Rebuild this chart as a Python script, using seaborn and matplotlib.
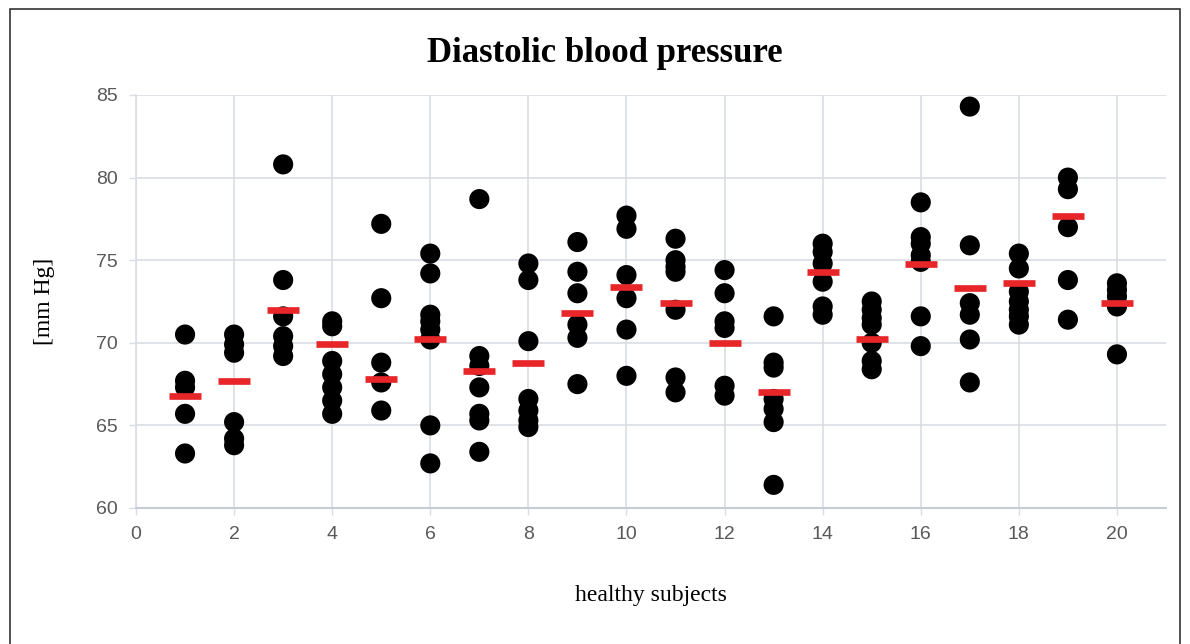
import matplotlib
matplotlib.use("Agg")
import matplotlib.pyplot as plt
import seaborn as sns
import pandas as pd
from matplotlib.patches import Rectangle

# ---- data ----
subjects = list(range(1, 21))
pressure_values = [
    [70.5, 67.7, 67.3, 65.7, 63.3],
    [70.5, 69.9, 69.4, 65.2, 64.2, 63.8],
    [80.8, 73.8, 71.6, 70.4, 69.8, 69.2],
    [71.3, 71.0, 68.9, 68.1, 67.3, 66.5, 65.7],
    [77.2, 72.7, 68.8, 67.6, 65.9],
    [75.4, 74.2, 71.7, 71.3, 70.8, 70.2, 65.0, 62.7],
    [78.7, 69.2, 68.6, 67.3, 65.7, 65.3, 63.4],
    [74.8, 73.8, 70.1, 66.6, 65.9, 65.3, 64.9],
    [76.1, 74.3, 73.0, 71.1, 70.3, 67.5],
    [77.7, 76.9, 74.1, 72.7, 70.8, 68.0],
    [76.3, 75.0, 74.6, 74.3, 72.0, 67.9, 67.0],
    [74.4, 73.0, 71.3, 70.9, 67.4, 66.8],
    [71.6, 68.8, 68.5, 66.6, 66.0, 65.2, 61.4],
    [76.0, 75.5, 74.8, 73.7, 72.2, 71.7],
    [72.5, 72.0, 71.5, 71.1, 70.0, 68.9, 68.4],
    [78.5, 76.4, 76.0, 75.3, 74.9, 71.6, 69.8],
    [84.3, 75.9, 72.4, 71.7, 70.2, 67.6],
    [75.4, 74.5, 73.1, 72.5, 72.0, 71.6, 71.1],
    [80.0, 79.3, 77.0, 73.8, 71.4],
    [73.6, 73.2, 72.8, 72.2, 69.3],
]
mean_values = [66.8, 67.7, 72.0, 69.9, 67.8, 70.2, 68.3, 68.8, 71.8, 73.4,
               72.4, 70.0, 67.0, 74.3, 70.2, 74.8, 73.3, 73.6, 77.7, 72.4]
x_ticks = [0, 2, 4, 6, 8, 10, 12, 14, 16, 18, 20]
y_ticks = [60, 65, 70, 75, 80, 85]

points = pd.DataFrame(
    [(s, v) for s, vals in zip(subjects, pressure_values) for v in vals],
    columns=["subject", "pressure"],
)
means = pd.DataFrame({"subject": subjects, "pressure": mean_values})

# ---- style ----
sns.set_theme(style="white")
grid_c = "#d9dee4"
tick_c = "#595959"

fig = plt.figure(figsize=(11.9, 6.44), dpi=100)
ax = fig.add_axes([136 / 1190, 1 - 508 / 644, (1166 - 136) / 1190, (508 - 95) / 644])

sns.scatterplot(data=points, x="subject", y="pressure", ax=ax, color="black",
                s=210, edgecolor="none", zorder=3, legend=False)
sns.scatterplot(data=means, x="subject", y="pressure", ax=ax, color="#e8262a",
                marker="_", s=530, linewidth=4.8, zorder=4, legend=False)

ax.set_xlim(0, 21)
ax.set_ylim(60, 85)
ax.set_xticks(x_ticks)
ax.set_yticks(y_ticks)
ax.grid(True, color=grid_c, linewidth=1.2, zorder=0)
ax.set_axisbelow(True)
for side in ["top", "right"]:
    ax.spines[side].set_visible(False)
ax.spines["left"].set_color(grid_c)
ax.spines["bottom"].set_color("#c5ccd3")
ax.spines["bottom"].set_linewidth(1.5)
ax.spines["left"].set_linewidth(1.2)
ax.tick_params(axis="both", which="both", length=5, width=1.0, color=grid_c,
               labelcolor=tick_c, labelsize=14, pad=8, left=True, bottom=True)
tick_family = ["Liberation Sans Narrow", "Liberation Sans", "DejaVu Sans"]
for lab in ax.get_xticklabels() + ax.get_yticklabels():
    lab.set_family(tick_family)

serif = ["Liberation Serif", "DejaVu Serif"]
ax.set_xlabel("healthy subjects", family=serif, fontsize=17, color="black", labelpad=30)
ax.set_ylabel("[mm Hg]", family=serif, fontsize=17, color="black", labelpad=30)
fig.text(605 / 1190, 1 - 54 / 644, "Diastolic blood pressure", family=serif,
         fontsize=25, fontweight="bold", color="black", ha="center", va="center")

# outer frame
fig.patches.append(Rectangle((10 / 1190, -0.02), (1180 - 10) / 1190, 1 - 9 / 644 + 0.02,
                             transform=fig.transFigure, fill=False,
                             edgecolor="#333333", linewidth=1.2))

fig.savefig("out.png", dpi=100)
